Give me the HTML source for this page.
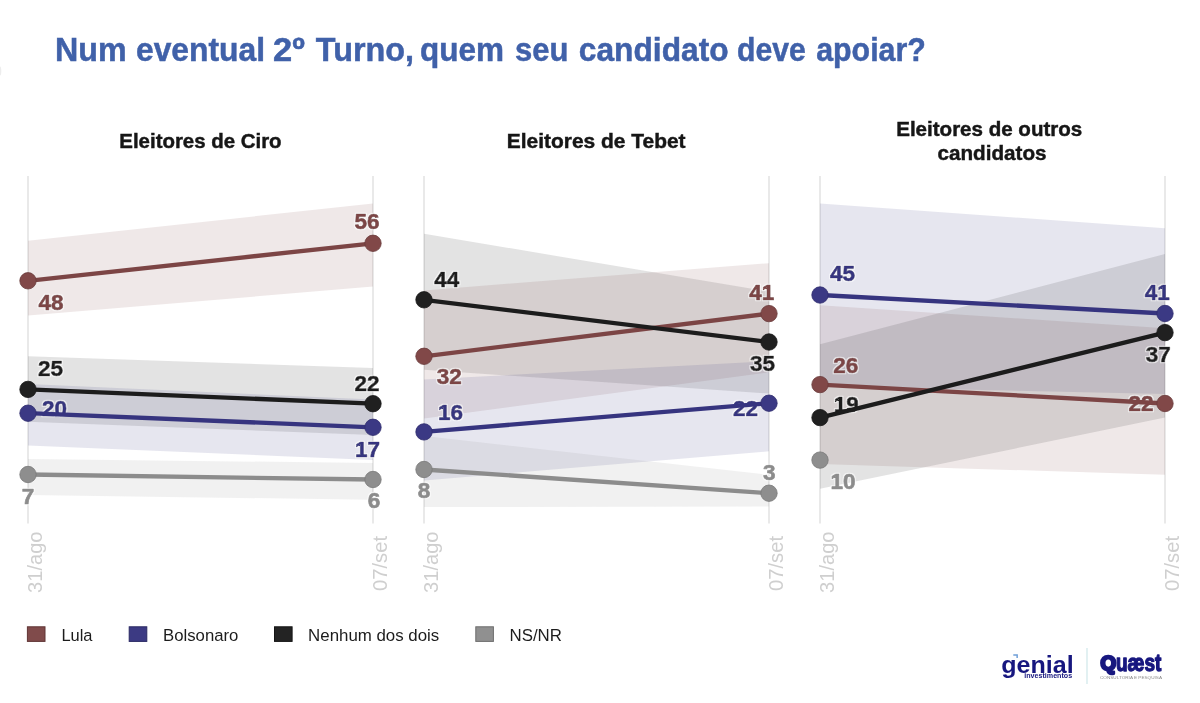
<!DOCTYPE html>
<html lang="pt-BR">
<head>
<meta charset="utf-8">
<title>Num eventual 2º Turno, quem seu candidato deve apoiar?</title>
<style>html,body{margin:0;padding:0;background:#fff;overflow:hidden}svg text{white-space:pre}</style>
</head>
<body>
<svg width="1200" height="703" viewBox="0 0 1200 703" style="display:block">
<rect width="1200" height="703" fill="#ffffff"/>
<defs><filter id="halo" x="-30%" y="-30%" width="160%" height="160%"><feMorphology in="SourceAlpha" operator="dilate" radius="0.9" result="d"/><feGaussianBlur in="d" stdDeviation="0.45" result="b"/><feFlood flood-color="#ffffff" flood-opacity="0.6"/><feComposite in2="b" operator="in" result="h"/><feMerge><feMergeNode in="h"/><feMergeNode in="SourceGraphic"/></feMerge></filter></defs>
<ellipse cx="0" cy="71" rx="1.3" ry="4.5" fill="#ededed"/>
<text y="61.4" font-family='"Liberation Sans", sans-serif' font-weight="bold" font-size="34" fill="#4061a9" stroke="#4061a9" stroke-width="0.5"><tspan x="55.00" textLength="71.60" lengthAdjust="spacingAndGlyphs">Num</tspan> <tspan x="136.00" textLength="129.00" lengthAdjust="spacingAndGlyphs">eventual</tspan> <tspan x="273.00" textLength="31.80" lengthAdjust="spacingAndGlyphs">2º</tspan> <tspan x="315.80" textLength="98.20" lengthAdjust="spacingAndGlyphs">Turno,</tspan> <tspan x="420.00" textLength="84.00" lengthAdjust="spacingAndGlyphs">quem</tspan> <tspan x="515.00" textLength="53.40" lengthAdjust="spacingAndGlyphs">seu</tspan> <tspan x="578.80" textLength="149.80" lengthAdjust="spacingAndGlyphs">candidato</tspan> <tspan x="737.00" textLength="68.80" lengthAdjust="spacingAndGlyphs">deve</tspan> <tspan x="816.20" textLength="109.60" lengthAdjust="spacingAndGlyphs">apoiar?</tspan></text>
<text x="119.3" y="147.8" font-family='"Liberation Sans", sans-serif' font-weight="bold" font-size="20.6" fill="#161616" stroke="#161616" stroke-width="0.45" textLength="162.3" lengthAdjust="spacingAndGlyphs">Eleitores de Ciro</text>
<text x="506.8" y="147.6" font-family='"Liberation Sans", sans-serif' font-weight="bold" font-size="20.6" fill="#161616" stroke="#161616" stroke-width="0.45" textLength="178.8" lengthAdjust="spacingAndGlyphs">Eleitores de Tebet</text>
<text x="896.2" y="135.8" font-family='"Liberation Sans", sans-serif' font-weight="bold" font-size="20.6" fill="#161616" stroke="#161616" stroke-width="0.45" textLength="186.1" lengthAdjust="spacingAndGlyphs">Eleitores de outros</text>
<text x="937.5" y="159.9" font-family='"Liberation Sans", sans-serif' font-weight="bold" font-size="20.6" fill="#161616" stroke="#161616" stroke-width="0.45" textLength="109.0" lengthAdjust="spacingAndGlyphs">candidatos</text>
<line x1="28" y1="176" x2="28" y2="523.5" stroke="#e9e9e9" stroke-width="2"/>
<line x1="373" y1="176" x2="373" y2="523.5" stroke="#e9e9e9" stroke-width="2"/>
<line x1="424" y1="176" x2="424" y2="523.5" stroke="#e9e9e9" stroke-width="2"/>
<line x1="769" y1="176" x2="769" y2="523.5" stroke="#e9e9e9" stroke-width="2"/>
<line x1="820" y1="176" x2="820" y2="523.5" stroke="#e9e9e9" stroke-width="2"/>
<line x1="1165" y1="176" x2="1165" y2="523.5" stroke="#e9e9e9" stroke-width="2"/>
<polygon points="28,240.8 373,203.5 373,286.6 28,315.5" fill="#7c4545" fill-opacity="0.125"/>
<polygon points="28,356.3 373,368.0 373,435.0 28,421.7" fill="#1c1c1c" fill-opacity="0.125"/>
<polygon points="28,384.0 373,399.5 373,460.0 28,445.5" fill="#36347f" fill-opacity="0.125"/>
<polygon points="28,459.0 373,463.0 373,499.8 28,494.9" fill="#8c8c8c" fill-opacity="0.125"/>
<polygon points="424,233.8 769,291.6 769,393.5 424,369.8" fill="#1c1c1c" fill-opacity="0.125"/>
<polygon points="424,290.4 769,263.2 769,372.3 424,418.6" fill="#7c4545" fill-opacity="0.125"/>
<polygon points="424,379.5 769,361.3 769,451.3 424,480.4" fill="#36347f" fill-opacity="0.125"/>
<polygon points="424,436.0 769,474.8 769,506.5 424,507.0" fill="#8c8c8c" fill-opacity="0.125"/>
<polygon points="820,203.5 1165,228.2 1165,394.1 820,386.5" fill="#36347f" fill-opacity="0.125"/>
<polygon points="820,305.2 1165,328.3 1165,474.7 820,464.1" fill="#7c4545" fill-opacity="0.125"/>
<polygon points="820,344.3 1165,254.0 1165,417.6 820,488.7" fill="#1c1c1c" fill-opacity="0.125"/>
<text x="51.0" y="310.1" text-anchor="middle" font-family='"Liberation Sans", sans-serif' font-weight="bold" font-size="22.5" fill="#7c4545" stroke="#7c4545" stroke-width="0.7" stroke-linejoin="round" filter="url(#halo)">48</text>
<text x="367.1" y="228.9" text-anchor="middle" font-family='"Liberation Sans", sans-serif' font-weight="bold" font-size="22.5" fill="#7c4545" stroke="#7c4545" stroke-width="0.7" stroke-linejoin="round" filter="url(#halo)">56</text>
<text x="50.5" y="375.8" text-anchor="middle" font-family='"Liberation Sans", sans-serif' font-weight="bold" font-size="22.5" fill="#1c1c1c" stroke="#1c1c1c" stroke-width="0.7" stroke-linejoin="round" filter="url(#halo)">25</text>
<text x="366.9" y="390.6" text-anchor="middle" font-family='"Liberation Sans", sans-serif' font-weight="bold" font-size="22.5" fill="#1c1c1c" stroke="#1c1c1c" stroke-width="0.7" stroke-linejoin="round" filter="url(#halo)">22</text>
<text x="54.4" y="416.0" text-anchor="middle" font-family='"Liberation Sans", sans-serif' font-weight="bold" font-size="22.5" fill="#36347f" stroke="#36347f" stroke-width="0.7" stroke-linejoin="round" filter="url(#halo)">20</text>
<text x="367.6" y="456.5" text-anchor="middle" font-family='"Liberation Sans", sans-serif' font-weight="bold" font-size="22.5" fill="#36347f" stroke="#36347f" stroke-width="0.7" stroke-linejoin="round" filter="url(#halo)">17</text>
<text x="27.9" y="503.8" text-anchor="middle" font-family='"Liberation Sans", sans-serif' font-weight="bold" font-size="22.5" fill="#8c8c8c" stroke="#8c8c8c" stroke-width="0.7" stroke-linejoin="round" filter="url(#halo)">7</text>
<text x="374.0" y="508.0" text-anchor="middle" font-family='"Liberation Sans", sans-serif' font-weight="bold" font-size="22.5" fill="#8c8c8c" stroke="#8c8c8c" stroke-width="0.7" stroke-linejoin="round" filter="url(#halo)">6</text>
<text x="446.8" y="286.5" text-anchor="middle" font-family='"Liberation Sans", sans-serif' font-weight="bold" font-size="22.5" fill="#1c1c1c" stroke="#1c1c1c" stroke-width="0.7" stroke-linejoin="round" filter="url(#halo)">44</text>
<text x="761.8" y="300.3" text-anchor="middle" font-family='"Liberation Sans", sans-serif' font-weight="bold" font-size="22.5" fill="#7c4545" stroke="#7c4545" stroke-width="0.7" stroke-linejoin="round" filter="url(#halo)">41</text>
<text x="762.6" y="371.0" text-anchor="middle" font-family='"Liberation Sans", sans-serif' font-weight="bold" font-size="22.5" fill="#1c1c1c" stroke="#1c1c1c" stroke-width="0.7" stroke-linejoin="round" filter="url(#halo)">35</text>
<text x="449.3" y="383.8" text-anchor="middle" font-family='"Liberation Sans", sans-serif' font-weight="bold" font-size="22.5" fill="#7c4545" stroke="#7c4545" stroke-width="0.7" stroke-linejoin="round" filter="url(#halo)">32</text>
<text x="450.5" y="420.2" text-anchor="middle" font-family='"Liberation Sans", sans-serif' font-weight="bold" font-size="22.5" fill="#36347f" stroke="#36347f" stroke-width="0.7" stroke-linejoin="round" filter="url(#halo)">16</text>
<text x="745.4" y="416.0" text-anchor="middle" font-family='"Liberation Sans", sans-serif' font-weight="bold" font-size="22.5" fill="#36347f" stroke="#36347f" stroke-width="0.7" stroke-linejoin="round" filter="url(#halo)">22</text>
<text x="423.9" y="498.4" text-anchor="middle" font-family='"Liberation Sans", sans-serif' font-weight="bold" font-size="22.5" fill="#8c8c8c" stroke="#8c8c8c" stroke-width="0.7" stroke-linejoin="round" filter="url(#halo)">8</text>
<text x="769.2" y="479.5" text-anchor="middle" font-family='"Liberation Sans", sans-serif' font-weight="bold" font-size="22.5" fill="#8c8c8c" stroke="#8c8c8c" stroke-width="0.7" stroke-linejoin="round" filter="url(#halo)">3</text>
<text x="842.6" y="280.9" text-anchor="middle" font-family='"Liberation Sans", sans-serif' font-weight="bold" font-size="22.5" fill="#36347f" stroke="#36347f" stroke-width="0.7" stroke-linejoin="round" filter="url(#halo)">45</text>
<text x="1157.3" y="300.2" text-anchor="middle" font-family='"Liberation Sans", sans-serif' font-weight="bold" font-size="22.5" fill="#36347f" stroke="#36347f" stroke-width="0.7" stroke-linejoin="round" filter="url(#halo)">41</text>
<text x="1158.2" y="362.0" text-anchor="middle" font-family='"Liberation Sans", sans-serif' font-weight="bold" font-size="22.5" fill="#1c1c1c" stroke="#1c1c1c" stroke-width="0.7" stroke-linejoin="round" filter="url(#halo)">37</text>
<text x="845.8" y="373.0" text-anchor="middle" font-family='"Liberation Sans", sans-serif' font-weight="bold" font-size="22.5" fill="#7c4545" stroke="#7c4545" stroke-width="0.7" stroke-linejoin="round" filter="url(#halo)">26</text>
<text x="1141.1" y="411.3" text-anchor="middle" font-family='"Liberation Sans", sans-serif' font-weight="bold" font-size="22.5" fill="#7c4545" stroke="#7c4545" stroke-width="0.7" stroke-linejoin="round" filter="url(#halo)">22</text>
<text x="846.3" y="411.5" text-anchor="middle" font-family='"Liberation Sans", sans-serif' font-weight="bold" font-size="22.5" fill="#1c1c1c" stroke="#1c1c1c" stroke-width="0.7" stroke-linejoin="round" filter="url(#halo)">19</text>
<text x="843.0" y="489.2" text-anchor="middle" font-family='"Liberation Sans", sans-serif' font-weight="bold" font-size="22.5" fill="#8c8c8c" stroke="#8c8c8c" stroke-width="0.7" stroke-linejoin="round" filter="url(#halo)">10</text>
<line x1="28" y1="474.5" x2="373" y2="479.5" stroke="#8c8c8c" stroke-width="4.3"/>
<circle cx="28" cy="474.5" r="8.2" fill="#8e8e8e" stroke="#787878" stroke-width="0.8"/><circle cx="373" cy="479.5" r="8.2" fill="#8e8e8e" stroke="#787878" stroke-width="0.8"/>
<line x1="28" y1="413.2" x2="373" y2="427.3" stroke="#36347f" stroke-width="4.3"/>
<circle cx="28" cy="413.2" r="8.2" fill="#3b3984" stroke="#2e2c6d" stroke-width="0.8"/><circle cx="373" cy="427.3" r="8.2" fill="#3b3984" stroke="#2e2c6d" stroke-width="0.8"/>
<line x1="28" y1="389.4" x2="373" y2="403.7" stroke="#1c1c1c" stroke-width="4.3"/>
<circle cx="28" cy="389.4" r="8.2" fill="#202020" stroke="#181818" stroke-width="0.8"/><circle cx="373" cy="403.7" r="8.2" fill="#202020" stroke="#181818" stroke-width="0.8"/>
<line x1="28" y1="280.8" x2="373" y2="243.3" stroke="#7c4545" stroke-width="4.3"/>
<circle cx="28" cy="280.8" r="8.2" fill="#814848" stroke="#6a3b3b" stroke-width="0.8"/><circle cx="373" cy="243.3" r="8.2" fill="#814848" stroke="#6a3b3b" stroke-width="0.8"/>
<line x1="424" y1="469.5" x2="769" y2="493.2" stroke="#8c8c8c" stroke-width="4.3"/>
<circle cx="424" cy="469.5" r="8.2" fill="#8e8e8e" stroke="#787878" stroke-width="0.8"/><circle cx="769" cy="493.2" r="8.2" fill="#8e8e8e" stroke="#787878" stroke-width="0.8"/>
<line x1="424" y1="431.9" x2="769" y2="403.2" stroke="#36347f" stroke-width="4.3"/>
<circle cx="424" cy="431.9" r="8.2" fill="#3b3984" stroke="#2e2c6d" stroke-width="0.8"/><circle cx="769" cy="403.2" r="8.2" fill="#3b3984" stroke="#2e2c6d" stroke-width="0.8"/>
<line x1="424" y1="356.3" x2="769" y2="313.6" stroke="#7c4545" stroke-width="4.3"/>
<circle cx="424" cy="356.3" r="8.2" fill="#814848" stroke="#6a3b3b" stroke-width="0.8"/><circle cx="769" cy="313.6" r="8.2" fill="#814848" stroke="#6a3b3b" stroke-width="0.8"/>
<line x1="424" y1="299.8" x2="769" y2="342.0" stroke="#1c1c1c" stroke-width="4.3"/>
<circle cx="424" cy="299.8" r="8.2" fill="#202020" stroke="#181818" stroke-width="0.8"/><circle cx="769" cy="342.0" r="8.2" fill="#202020" stroke="#181818" stroke-width="0.8"/>
<line x1="820" y1="384.6" x2="1165" y2="403.5" stroke="#7c4545" stroke-width="4.3"/>
<circle cx="820" cy="384.6" r="8.2" fill="#814848" stroke="#6a3b3b" stroke-width="0.8"/><circle cx="1165" cy="403.5" r="8.2" fill="#814848" stroke="#6a3b3b" stroke-width="0.8"/>
<line x1="820" y1="295.0" x2="1165" y2="313.5" stroke="#36347f" stroke-width="4.3"/>
<circle cx="820" cy="295.0" r="8.2" fill="#3b3984" stroke="#2e2c6d" stroke-width="0.8"/><circle cx="1165" cy="313.5" r="8.2" fill="#3b3984" stroke="#2e2c6d" stroke-width="0.8"/>
<line x1="820" y1="417.6" x2="1165" y2="332.6" stroke="#1c1c1c" stroke-width="4.3"/>
<circle cx="820" cy="417.6" r="8.2" fill="#202020" stroke="#181818" stroke-width="0.8"/><circle cx="1165" cy="332.6" r="8.2" fill="#202020" stroke="#181818" stroke-width="0.8"/>
<circle cx="820" cy="460.1" r="8.2" fill="#8e8e8e" stroke="#787878" stroke-width="0.8"/>
<text transform="translate(42.2,531.5) rotate(-90)" text-anchor="end" font-family='"Liberation Sans", sans-serif' font-size="20" fill="#cfcfcf" textLength="61.5" lengthAdjust="spacingAndGlyphs">31/ago</text>
<text transform="translate(387.2,536) rotate(-90)" text-anchor="end" font-family='"Liberation Sans", sans-serif' font-size="20" fill="#cfcfcf" textLength="55" lengthAdjust="spacingAndGlyphs">07/set</text>
<text transform="translate(438.2,531.5) rotate(-90)" text-anchor="end" font-family='"Liberation Sans", sans-serif' font-size="20" fill="#cfcfcf" textLength="61.5" lengthAdjust="spacingAndGlyphs">31/ago</text>
<text transform="translate(783.2,536) rotate(-90)" text-anchor="end" font-family='"Liberation Sans", sans-serif' font-size="20" fill="#cfcfcf" textLength="55" lengthAdjust="spacingAndGlyphs">07/set</text>
<text transform="translate(834.2,531.5) rotate(-90)" text-anchor="end" font-family='"Liberation Sans", sans-serif' font-size="20" fill="#cfcfcf" textLength="61.5" lengthAdjust="spacingAndGlyphs">31/ago</text>
<text transform="translate(1179.2,536) rotate(-90)" text-anchor="end" font-family='"Liberation Sans", sans-serif' font-size="20" fill="#cfcfcf" textLength="55" lengthAdjust="spacingAndGlyphs">07/set</text>
<rect x="27.4" y="626.8" width="17.6" height="14.6" fill="#7c4545" fill-opacity="0.97" stroke="#603535" stroke-width="1"/>
<text x="61.4" y="640.5" font-family='"Liberation Sans", sans-serif' font-size="17.4" fill="#1c1c1c" textLength="31.1" lengthAdjust="spacingAndGlyphs">Lula</text>
<rect x="129.2" y="626.8" width="17.6" height="14.6" fill="#36347f" fill-opacity="0.97" stroke="#2a2863" stroke-width="1"/>
<text x="163.1" y="640.5" font-family='"Liberation Sans", sans-serif' font-size="17.4" fill="#1c1c1c" textLength="75.3" lengthAdjust="spacingAndGlyphs">Bolsonaro</text>
<rect x="274.5" y="626.8" width="17.6" height="14.6" fill="#1c1c1c" fill-opacity="0.97" stroke="#151515" stroke-width="1"/>
<text x="308.1" y="640.5" font-family='"Liberation Sans", sans-serif' font-size="17.4" fill="#1c1c1c" textLength="131.2" lengthAdjust="spacingAndGlyphs">Nenhum dos dois</text>
<rect x="475.8" y="626.8" width="17.6" height="14.6" fill="#8c8c8c" fill-opacity="0.97" stroke="#6d6d6d" stroke-width="1"/>
<text x="509.5" y="640.5" font-family='"Liberation Sans", sans-serif' font-size="17.4" fill="#1c1c1c" textLength="52.4" lengthAdjust="spacingAndGlyphs">NS/NR</text>
<text x="1001.3" y="672.6" font-family='"Liberation Sans", sans-serif' font-weight="bold" font-size="24.6" fill="#17177f" textLength="72.4" lengthAdjust="spacingAndGlyphs">genial</text>
<path d="M1013.3 654.2 H1017.9 V657.9 H1016.4 V655.7 H1013.3 Z" fill="#6f9fd8"/>
<text x="1024.2" y="678.4" font-family='"Liberation Sans", sans-serif' font-weight="bold" font-size="6.3" fill="#17177f" textLength="48" lengthAdjust="spacingAndGlyphs">investimentos</text>
<line x1="1087" y1="648" x2="1087" y2="684" stroke="#cfe7ea" stroke-width="1.2"/>
<text y="671.2" font-family='"Liberation Sans", sans-serif' font-weight="bold" fill="#17177f" stroke="#17177f" stroke-width="1.3" stroke-linejoin="round"><tspan x="1100.6" y="669.9" font-size="20.4" stroke-width="2.6" textLength="15.6" lengthAdjust="spacingAndGlyphs">Q</tspan><tspan x="1116" y="671.2" font-size="23" textLength="45.4" lengthAdjust="spacingAndGlyphs">uæst</tspan></text>
<text x="1100" y="678.8" font-family='"Liberation Sans", sans-serif' font-size="4.4" fill="#8a8a8a" textLength="62" lengthAdjust="spacingAndGlyphs">CONSULTORIA E PESQUISA</text>
</svg>
</body>
</html>
